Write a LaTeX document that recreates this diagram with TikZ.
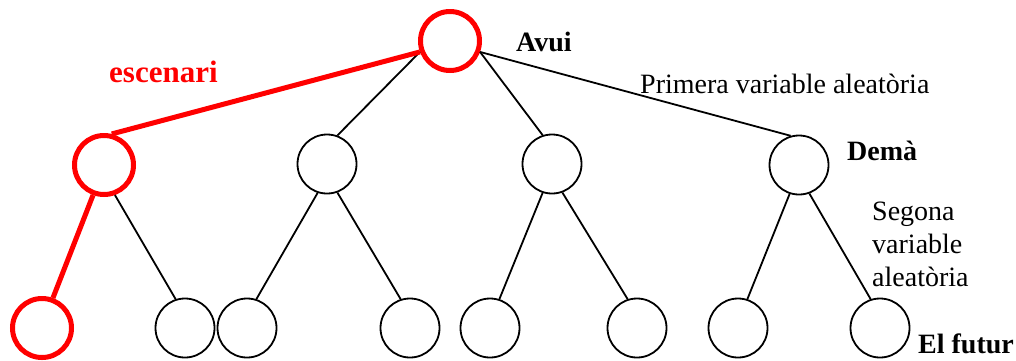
\documentclass[tikz,border=0pt]{standalone}
\usepackage{fontspec}
\setmainfont{Liberation Serif}

\begin{document}
\begin{tikzpicture}[x=1pt, y=-1pt,
		estat/.style = {circle, draw, line width = 1.8pt, minimum size = 59pt, inner sep = 0pt},
		cami/.style = {draw = red, line width = 5pt},
		etiqueta/.style = {anchor = base west, inner sep = 0pt, font = \fontsize{28}{33}\selectfont}]
	\useasboundingbox (0,0) rectangle (1016,360);

	% nodes
	\node [estat, cami] (avui) at (450,41) {};

	\node [estat, cami] (e1) at (104,165) {};
	\node [estat] (e2) at (327,164) {};
	\node [estat] (e3) at (552,164) {};
	\node [estat] (e4) at (799,165) {};

	\node [estat, cami] (f1) at (42,328) {};
	\node [estat] (f2) at (185,328) {};
	\node [estat] (f3) at (247,328) {};
	\node [estat] (f4) at (410,328) {};
	\node [estat] (f5) at (490,328) {};
	\node [estat] (f6) at (637,328) {};
	\node [estat] (f7) at (738,328) {};
	\node [estat] (f8) at (880,328) {};

	% branques
	\begin{scope}[line width = 1.8pt]
		\draw (avui.200) -- (e2.70);
		\draw (avui.340) -- (e3.108);
		\draw (avui.340) -- (e4.106);
		\draw (e1.290) -- (f2.108);
		\draw (e2.252) -- (f3.72);
		\draw (e2.290) -- (f4.108);
		\draw (e3.252) -- (f5.72);
		\draw (e3.290) -- (f6.108);
		\draw (e4.252) -- (f7.72);
		\draw (e4.290) -- (f8.108);
	\end{scope}

	\begin{scope}[cami]
		\draw (avui.200) -- (e1.76);
		\draw (e1.250) -- (f1.70);
	\end{scope}

	% textos
	\node [etiqueta, font = \fontsize{28}{33}\selectfont\bfseries] (tavui) at (516,51) {Avui};
	\node [etiqueta, font = \fontsize{31}{36}\selectfont\bfseries, text = red] (tesc) at (109,82) {escenari};
	\node [etiqueta] (tprim) at (640,93) {Primera variable aleatòria};
	\node [etiqueta, font = \fontsize{28}{33}\selectfont\bfseries] (tdema) at (847,160) {Demà};
	\node [etiqueta, anchor = north west, align = left] (tseg) at (872,202) {Segona\\variable\\aleatòria};
	\node [etiqueta, font = \fontsize{28}{33}\selectfont\bfseries] (tfut) at (918,353) {El futur};
\end{tikzpicture}
\end{document}
